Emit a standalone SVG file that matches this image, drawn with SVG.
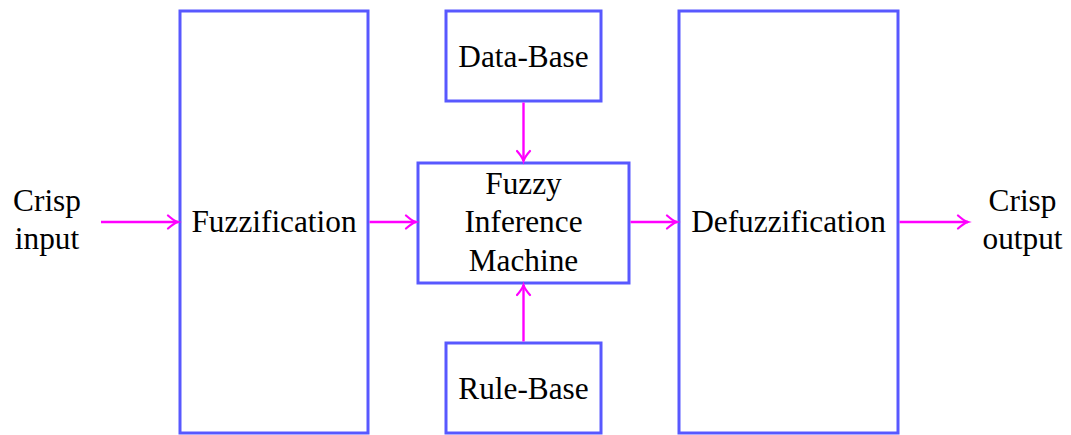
<svg xmlns="http://www.w3.org/2000/svg" width="1071" height="435" viewBox="0 0 1071 435">
<defs>
<style>
.box{fill:#fff;stroke:#5858ff;stroke-width:3}
.t{font-family:'Liberation Serif','Times New Roman',serif;font-size:31.3px;fill:#000;text-anchor:middle}
.c{fill:none;stroke:#ff00ff;stroke-width:2.4}
</style>
<marker id="ah" markerUnits="userSpaceOnUse" markerWidth="16" markerHeight="16" viewBox="-12 -8 16 16" refX="0" refY="0" orient="auto">
<path d="M-10,-6.5 Q-4,-1.2 0,0 Q-4,1.2 -10,6.5" fill="none" stroke="#ff00ff" stroke-width="2.2" stroke-linecap="round"/>
</marker>
</defs>
<g id="crisp-input"><text class="t" x="47" y="211">Crisp</text><text class="t" x="47" y="249">input</text></g>
<g id="fuzzification"><rect class="box" x="180" y="11" width="188" height="422"/><text class="t" x="274" y="232">Fuzzification</text></g>
<g id="data-base"><rect class="box" x="446" y="11" width="155" height="90"/><text class="t" x="523.5" y="67">Data-Base</text></g>
<g id="fim"><rect class="box" x="418" y="163" width="211" height="120"/><text class="t" x="523.5" y="194">Fuzzy</text><text class="t" x="523.5" y="232">Inference</text><text class="t" x="523.5" y="271">Machine</text></g>
<g id="rule-base"><rect class="box" x="446" y="343" width="155" height="90"/><text class="t" x="523.5" y="399">Rule-Base</text></g>
<g id="defuzzification"><rect class="box" x="679" y="11" width="219" height="422"/><text class="t" x="788.5" y="232">Defuzzification</text></g>
<g id="crisp-output"><text class="t" x="1022.5" y="211">Crisp</text><text class="t" x="1022.5" y="249">output</text></g>
<g id="connectors">
<path class="c" d="M101,222 H178" marker-end="url(#ah)"/>
<path class="c" d="M369.5,222 H416" marker-end="url(#ah)"/>
<path class="c" d="M630.5,222 H677" marker-end="url(#ah)"/>
<path class="c" d="M899.5,222 H968" marker-end="url(#ah)"/>
<path class="c" d="M523.5,102.5 V161" marker-end="url(#ah)"/>
<path class="c" d="M523.5,341.5 V285" marker-end="url(#ah)"/>
</g>
</svg>
